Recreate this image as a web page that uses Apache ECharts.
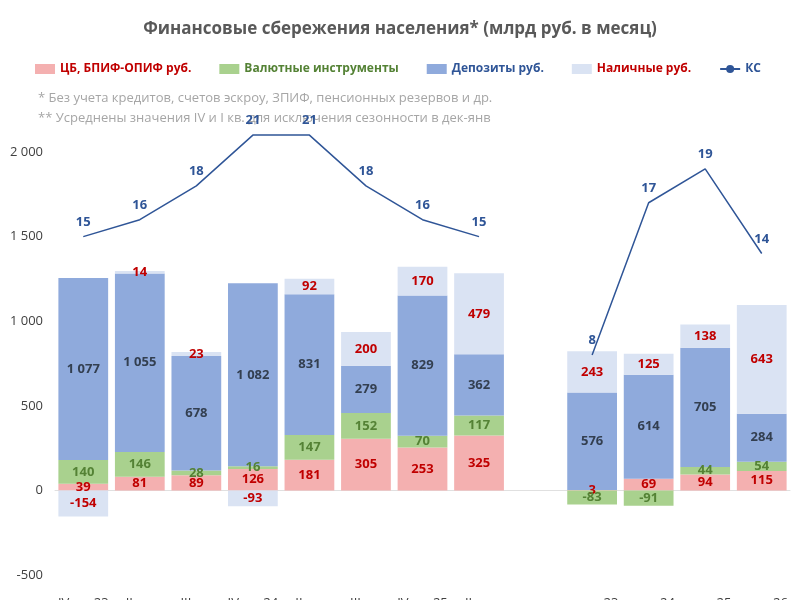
<!DOCTYPE html>
<html>
<head>
<meta charset="utf-8">
<script src="https://cdn.jsdelivr.net/npm/echarts@6/dist/echarts.min.js"></script>
<style>
  html, body { margin: 0; background: #fff; }
  #chart { width: 800px; height: 600px; }
</style>
</head>
<body>
<div id="chart"></div>
<script>
// категории (пустая — разрыв между группами)
var categories = ['IV кв. 23\n- I кв. 24', 'II кв.\n2024', 'III кв.\n2024', 'IV кв. 24\n- I кв. 25',
    'II кв.\n2025', 'III кв.\n2025', 'IV кв. 25\n- I кв. 26', 'II кв.\n2026', '',
    'июль.23', 'июль.24', 'июль.25', 'июль.26'];
var cbData = [39, 81, 89, 126, 181, 305, 253, 325, null, 3, 69, 94, 115];
var fxData = [140, 146, 28, 16, 147, 152, 70, 117, null, -83, -91, 44, 54];
var depData = [1077, 1055, 678, 1082, 831, 279, 829, 362, null, 576, 614, 705, 284];
var cashData = [-154, 14, 23, -93, 92, 200, 170, 479, null, 243, 125, 138, 643];
var ksData = [15, 16, 18, 21, 21, 18, 16, 15, null, 8, 17, 19, 14];
var yTicks = [-500, 0, 500, 1000, 1500, 2000];

var font = '"Open Sans", "Noto Sans", sans-serif';

function barSeries(name, data, color, labelColor) {
    return {
        name: name,
        type: 'bar',
        stack: 'total',
        barCategoryGap: '12%',
        data: data,
        itemStyle: { color: color },
        label: {
            show: true,
            position: 'inside',
            color: labelColor,
            fontWeight: 'bold',
            fontSize: 13,
            fontFamily: font,
            formatter: function (p) {
                return p.value === null ? '' : String(p.value).replace(/(\d)(?=(\d{3})$)/, '$1 ');
            }
        }
    };
}

var myChart = echarts.init(document.getElementById('chart'));
var option = {
    animation: false,
    title: {
        text: 'Финансовые сбережения населения* (млрд руб. в месяц)',
        left: 'center',
        top: 16,
        textStyle: { color: '#595959', fontSize: 17, fontWeight: 'bold', fontFamily: font }
    },
    legend: {
        top: 58,
        left: 30,
        itemGap: 28,
        itemWidth: 20,
        itemHeight: 10,
        textStyle: { fontWeight: 'bold', fontSize: 12, fontFamily: font },
        data: [
            { name: 'ЦБ, БПИФ-ОПИФ руб.', icon: 'rect', textStyle: { color: '#c00000' } },
            { name: 'Валютные инструменты', icon: 'rect', textStyle: { color: '#548235' } },
            { name: 'Депозиты руб.', icon: 'rect', textStyle: { color: '#2f5597' } },
            { name: 'Наличные руб.', icon: 'rect', textStyle: { color: '#c00000' } },
            { name: 'КС', textStyle: { color: '#2f5597' } }
        ]
    },
    graphic: [{
        type: 'text', left: 38, top: 88,
        style: {
            text: '* Без учета кредитов, счетов эскроу, ЗПИФ, пенсионных резервов и др.\n** Усреднены значения IV и I кв. для исключения сезонности в дек-янв',
            fill: '#a6a6a6', font: '13px ' + font, lineHeight: 20
        }
    }],
    grid: { left: 55, right: 10, top: 152, bottom: 25, outerBoundsMode: 'none' },
    xAxis: {
        type: 'category',
        data: categories,
        axisTick: { show: false },
        axisLine: { onZero: true, lineStyle: { color: '#e0e0e0' } },
        axisLabel: { color: '#404040', fontSize: 13, fontFamily: font, interval: 0, lineHeight: 20, margin: 18 }
    },
    yAxis: {
        type: 'value',
        min: -500, max: 2000, interval: 500,
        splitLine: { show: false },
        axisLine: { show: false },
        axisLabel: {
            color: '#404040', fontSize: 13, fontFamily: font, margin: 12,
            formatter: function (v) { return yTicks.indexOf(v) < 0 ? '' : String(v).replace(/(\d)(?=(\d{3})$)/, '$1 '); }
        }
    },
    series: [
        barSeries('ЦБ, БПИФ-ОПИФ руб.', cbData, '#f4b0b0', '#c00000'),
        barSeries('Валютные инструменты', fxData, '#a9d18e', '#548235'),
        barSeries('Депозиты руб.', depData, '#8faadc', '#333f50'),
        barSeries('Наличные руб.', cashData, '#dae3f3', '#c00000'),
        {
            name: 'КС',
            type: 'line',
            data: ksData.map(function (v) { return v === null ? null : v * 100; }),
            showSymbol: true,
            symbol: 'circle',
            symbolSize: 0,
            clip: false,
            connectNulls: false,
            lineStyle: { color: '#2f5597', width: 1.5 },
            itemStyle: { color: '#2f5597' },
            label: {
                show: true,
                position: 'top',
                distance: 8,
                color: '#2f5597',
                fontWeight: 'bold',
                fontSize: 13,
                fontFamily: font,
                formatter: function (p) { return p.value === null ? '' : p.value / 100; }
            }
        }
    ]
};
myChart.setOption(option);
</script>
</body>
</html>
